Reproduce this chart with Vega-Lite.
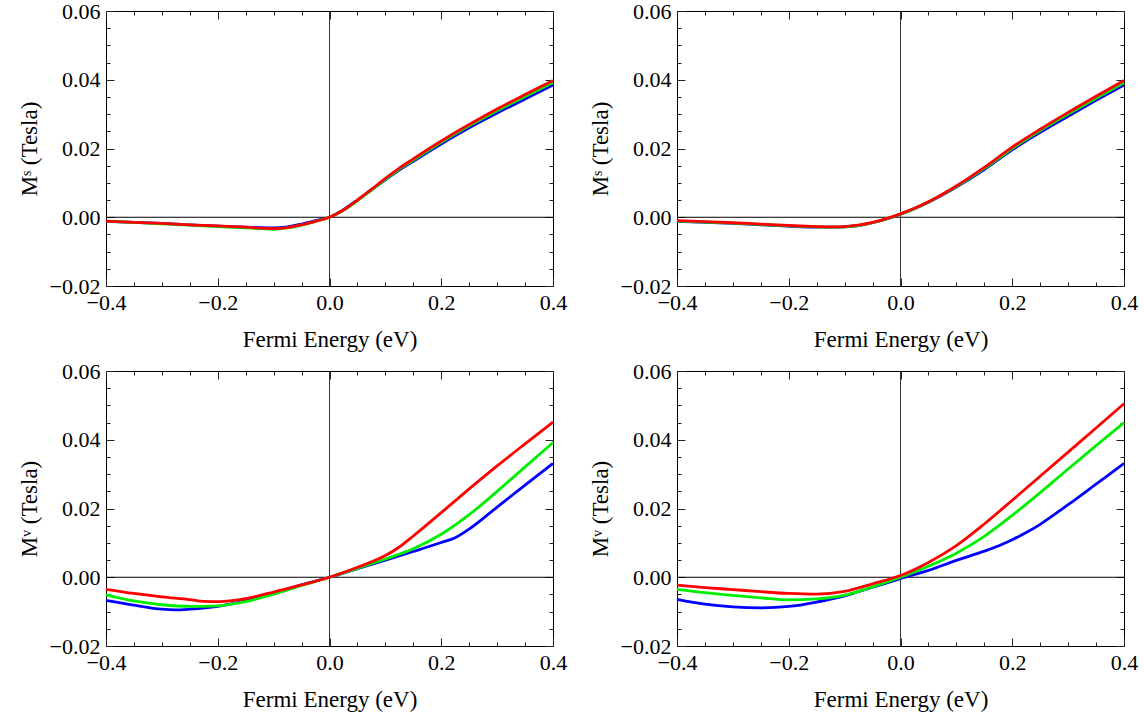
{
"$schema": "https://vega.github.io/schema/vega-lite/v6.json",
"padding": {"left": 17, "top": -1, "right": 5, "bottom": 5},
"background": "white",
"spacing": 7,
"config": {
  "font": "Liberation Serif",
  "view": {"stroke": "#000", "strokeWidth": 1},
  "axis": {"labelFont": "Liberation Serif", "titleFont": "Liberation Serif", "labelFlush": false, "labelOverlap": false, "domain": false, "grid": false},
  "concat": {"spacing": 20}
},
"data": {"values": [
{"p":"sl","s":"blue","E":-0.4,"M":-0.0012},{"p":"sl","s":"blue","E":-0.35,"M":-0.0015},{"p":"sl","s":"blue","E":-0.3,"M":-0.0018},{"p":"sl","s":"blue","E":-0.25,"M":-0.0022},{"p":"sl","s":"blue","E":-0.2,"M":-0.0026},{"p":"sl","s":"blue","E":-0.15,"M":-0.0029},{"p":"sl","s":"blue","E":-0.1,"M":-0.0031},{"p":"sl","s":"blue","E":-0.075,"M":-0.0028},{"p":"sl","s":"blue","E":-0.05,"M":-0.002},{"p":"sl","s":"blue","E":-0.025,"M":-0.001},{"p":"sl","s":"blue","E":0,"M":0},{"p":"sl","s":"blue","E":0.025,"M":0.0022},{"p":"sl","s":"blue","E":0.05,"M":0.005},{"p":"sl","s":"blue","E":0.075,"M":0.008},{"p":"sl","s":"blue","E":0.1,"M":0.0109},{"p":"sl","s":"blue","E":0.125,"M":0.0137},{"p":"sl","s":"blue","E":0.15,"M":0.0163},{"p":"sl","s":"blue","E":0.2,"M":0.0213},{"p":"sl","s":"blue","E":0.25,"M":0.026},{"p":"sl","s":"blue","E":0.3,"M":0.0303},{"p":"sl","s":"blue","E":0.35,"M":0.0344},{"p":"sl","s":"blue","E":0.4,"M":0.0385},
{"p":"sl","s":"green","E":-0.4,"M":-0.0011},{"p":"sl","s":"green","E":-0.35,"M":-0.0015},{"p":"sl","s":"green","E":-0.3,"M":-0.0019},{"p":"sl","s":"green","E":-0.25,"M":-0.0023},{"p":"sl","s":"green","E":-0.2,"M":-0.0027},{"p":"sl","s":"green","E":-0.15,"M":-0.0031},{"p":"sl","s":"green","E":-0.1,"M":-0.0035},{"p":"sl","s":"green","E":-0.075,"M":-0.0031},{"p":"sl","s":"green","E":-0.05,"M":-0.0023},{"p":"sl","s":"green","E":-0.025,"M":-0.0012},{"p":"sl","s":"green","E":0,"M":0},{"p":"sl","s":"green","E":0.025,"M":0.002},{"p":"sl","s":"green","E":0.05,"M":0.0048},{"p":"sl","s":"green","E":0.075,"M":0.0079},{"p":"sl","s":"green","E":0.1,"M":0.011},{"p":"sl","s":"green","E":0.125,"M":0.014},{"p":"sl","s":"green","E":0.15,"M":0.0166},{"p":"sl","s":"green","E":0.2,"M":0.0218},{"p":"sl","s":"green","E":0.25,"M":0.0266},{"p":"sl","s":"green","E":0.3,"M":0.031},{"p":"sl","s":"green","E":0.35,"M":0.0351},{"p":"sl","s":"green","E":0.4,"M":0.0392},
{"p":"sl","s":"red","E":-0.4,"M":-0.0011},{"p":"sl","s":"red","E":-0.35,"M":-0.0015},{"p":"sl","s":"red","E":-0.3,"M":-0.0018},{"p":"sl","s":"red","E":-0.25,"M":-0.0022},{"p":"sl","s":"red","E":-0.2,"M":-0.0025},{"p":"sl","s":"red","E":-0.15,"M":-0.0029},{"p":"sl","s":"red","E":-0.1,"M":-0.0033},{"p":"sl","s":"red","E":-0.075,"M":-0.003},{"p":"sl","s":"red","E":-0.05,"M":-0.0022},{"p":"sl","s":"red","E":-0.025,"M":-0.0012},{"p":"sl","s":"red","E":0,"M":0},{"p":"sl","s":"red","E":0.025,"M":0.0021},{"p":"sl","s":"red","E":0.05,"M":0.005},{"p":"sl","s":"red","E":0.075,"M":0.0081},{"p":"sl","s":"red","E":0.1,"M":0.0113},{"p":"sl","s":"red","E":0.125,"M":0.0143},{"p":"sl","s":"red","E":0.15,"M":0.017},{"p":"sl","s":"red","E":0.2,"M":0.0222},{"p":"sl","s":"red","E":0.25,"M":0.027},{"p":"sl","s":"red","E":0.3,"M":0.0315},{"p":"sl","s":"red","E":0.35,"M":0.0357},{"p":"sl","s":"red","E":0.4,"M":0.0398},
{"p":"sr","s":"blue","E":-0.4,"M":-0.0012},{"p":"sr","s":"blue","E":-0.35,"M":-0.0015},{"p":"sr","s":"blue","E":-0.3,"M":-0.0018},{"p":"sr","s":"blue","E":-0.25,"M":-0.0022},{"p":"sr","s":"blue","E":-0.2,"M":-0.0026},{"p":"sr","s":"blue","E":-0.15,"M":-0.0029},{"p":"sr","s":"blue","E":-0.125,"M":-0.0029},{"p":"sr","s":"blue","E":-0.1,"M":-0.0028},{"p":"sr","s":"blue","E":-0.075,"M":-0.0024},{"p":"sr","s":"blue","E":-0.05,"M":-0.0016},{"p":"sr","s":"blue","E":-0.025,"M":-0.0005},{"p":"sr","s":"blue","E":0,"M":0.0009},{"p":"sr","s":"blue","E":0.025,"M":0.0025},{"p":"sr","s":"blue","E":0.05,"M":0.0044},{"p":"sr","s":"blue","E":0.075,"M":0.0065},{"p":"sr","s":"blue","E":0.1,"M":0.0088},{"p":"sr","s":"blue","E":0.15,"M":0.0139},{"p":"sr","s":"blue","E":0.2,"M":0.0196},{"p":"sr","s":"blue","E":0.25,"M":0.0247},{"p":"sr","s":"blue","E":0.3,"M":0.0294},{"p":"sr","s":"blue","E":0.35,"M":0.034},{"p":"sr","s":"blue","E":0.4,"M":0.0385},
{"p":"sr","s":"green","E":-0.4,"M":-0.0011},{"p":"sr","s":"green","E":-0.35,"M":-0.0014},{"p":"sr","s":"green","E":-0.3,"M":-0.0017},{"p":"sr","s":"green","E":-0.25,"M":-0.0021},{"p":"sr","s":"green","E":-0.2,"M":-0.0025},{"p":"sr","s":"green","E":-0.15,"M":-0.0028},{"p":"sr","s":"green","E":-0.125,"M":-0.0029},{"p":"sr","s":"green","E":-0.1,"M":-0.0028},{"p":"sr","s":"green","E":-0.075,"M":-0.0024},{"p":"sr","s":"green","E":-0.05,"M":-0.0016},{"p":"sr","s":"green","E":-0.025,"M":-0.0005},{"p":"sr","s":"green","E":0,"M":0.0009},{"p":"sr","s":"green","E":0.025,"M":0.0025},{"p":"sr","s":"green","E":0.05,"M":0.0044},{"p":"sr","s":"green","E":0.075,"M":0.0066},{"p":"sr","s":"green","E":0.1,"M":0.0089},{"p":"sr","s":"green","E":0.15,"M":0.0142},{"p":"sr","s":"green","E":0.2,"M":0.02},{"p":"sr","s":"green","E":0.25,"M":0.0252},{"p":"sr","s":"green","E":0.3,"M":0.03},{"p":"sr","s":"green","E":0.35,"M":0.0346},{"p":"sr","s":"green","E":0.4,"M":0.0392},
{"p":"sr","s":"red","E":-0.4,"M":-0.001},{"p":"sr","s":"red","E":-0.35,"M":-0.0013},{"p":"sr","s":"red","E":-0.3,"M":-0.0016},{"p":"sr","s":"red","E":-0.25,"M":-0.002},{"p":"sr","s":"red","E":-0.2,"M":-0.0024},{"p":"sr","s":"red","E":-0.15,"M":-0.0027},{"p":"sr","s":"red","E":-0.125,"M":-0.0028},{"p":"sr","s":"red","E":-0.1,"M":-0.0027},{"p":"sr","s":"red","E":-0.075,"M":-0.0023},{"p":"sr","s":"red","E":-0.05,"M":-0.0015},{"p":"sr","s":"red","E":-0.025,"M":-0.0004},{"p":"sr","s":"red","E":0,"M":0.001},{"p":"sr","s":"red","E":0.025,"M":0.0026},{"p":"sr","s":"red","E":0.05,"M":0.0045},{"p":"sr","s":"red","E":0.075,"M":0.0067},{"p":"sr","s":"red","E":0.1,"M":0.0091},{"p":"sr","s":"red","E":0.15,"M":0.0145},{"p":"sr","s":"red","E":0.2,"M":0.0204},{"p":"sr","s":"red","E":0.25,"M":0.0256},{"p":"sr","s":"red","E":0.3,"M":0.0305},{"p":"sr","s":"red","E":0.35,"M":0.0352},{"p":"sr","s":"red","E":0.4,"M":0.0398},
{"p":"vl","s":"blue","E":-0.4,"M":-0.0067},{"p":"vl","s":"blue","E":-0.35,"M":-0.0081},{"p":"vl","s":"blue","E":-0.3,"M":-0.0093},{"p":"vl","s":"blue","E":-0.275,"M":-0.0095},{"p":"vl","s":"blue","E":-0.25,"M":-0.0093},{"p":"vl","s":"blue","E":-0.2,"M":-0.0085},{"p":"vl","s":"blue","E":-0.15,"M":-0.0069},{"p":"vl","s":"blue","E":-0.1,"M":-0.0048},{"p":"vl","s":"blue","E":-0.05,"M":-0.0022},{"p":"vl","s":"blue","E":0,"M":0},{"p":"vl","s":"blue","E":0.05,"M":0.0025},{"p":"vl","s":"blue","E":0.1,"M":0.005},{"p":"vl","s":"blue","E":0.15,"M":0.0075},{"p":"vl","s":"blue","E":0.2,"M":0.0101},{"p":"vl","s":"blue","E":0.225,"M":0.0115},{"p":"vl","s":"blue","E":0.25,"M":0.014},{"p":"vl","s":"blue","E":0.3,"M":0.0204},{"p":"vl","s":"blue","E":0.35,"M":0.0268},{"p":"vl","s":"blue","E":0.4,"M":0.0331},
{"p":"vl","s":"green","E":-0.4,"M":-0.0051},{"p":"vl","s":"green","E":-0.35,"M":-0.0069},{"p":"vl","s":"green","E":-0.3,"M":-0.008},{"p":"vl","s":"green","E":-0.25,"M":-0.0085},{"p":"vl","s":"green","E":-0.2,"M":-0.0083},{"p":"vl","s":"green","E":-0.15,"M":-0.0071},{"p":"vl","s":"green","E":-0.1,"M":-0.0049},{"p":"vl","s":"green","E":-0.05,"M":-0.0024},{"p":"vl","s":"green","E":0,"M":0},{"p":"vl","s":"green","E":0.05,"M":0.0026},{"p":"vl","s":"green","E":0.1,"M":0.0053},{"p":"vl","s":"green","E":0.15,"M":0.0083},{"p":"vl","s":"green","E":0.2,"M":0.0125},{"p":"vl","s":"green","E":0.25,"M":0.0182},{"p":"vl","s":"green","E":0.3,"M":0.025},{"p":"vl","s":"green","E":0.35,"M":0.0321},{"p":"vl","s":"green","E":0.4,"M":0.0392},
{"p":"vl","s":"red","E":-0.4,"M":-0.0035},{"p":"vl","s":"red","E":-0.35,"M":-0.0047},{"p":"vl","s":"red","E":-0.3,"M":-0.0057},{"p":"vl","s":"red","E":-0.25,"M":-0.0065},{"p":"vl","s":"red","E":-0.225,"M":-0.007},{"p":"vl","s":"red","E":-0.2,"M":-0.0071},{"p":"vl","s":"red","E":-0.175,"M":-0.0068},{"p":"vl","s":"red","E":-0.15,"M":-0.0062},{"p":"vl","s":"red","E":-0.1,"M":-0.0043},{"p":"vl","s":"red","E":-0.05,"M":-0.0022},{"p":"vl","s":"red","E":0,"M":0},{"p":"vl","s":"red","E":0.05,"M":0.0029},{"p":"vl","s":"red","E":0.1,"M":0.0063},{"p":"vl","s":"red","E":0.125,"M":0.0088},{"p":"vl","s":"red","E":0.15,"M":0.012},{"p":"vl","s":"red","E":0.2,"M":0.0188},{"p":"vl","s":"red","E":0.25,"M":0.0257},{"p":"vl","s":"red","E":0.3,"M":0.0324},{"p":"vl","s":"red","E":0.35,"M":0.0388},{"p":"vl","s":"red","E":0.4,"M":0.0451},
{"p":"vr","s":"blue","E":-0.4,"M":-0.0064},{"p":"vr","s":"blue","E":-0.35,"M":-0.0078},{"p":"vr","s":"blue","E":-0.3,"M":-0.0086},{"p":"vr","s":"blue","E":-0.25,"M":-0.0089},{"p":"vr","s":"blue","E":-0.2,"M":-0.0085},{"p":"vr","s":"blue","E":-0.15,"M":-0.0072},{"p":"vr","s":"blue","E":-0.1,"M":-0.0054},{"p":"vr","s":"blue","E":-0.05,"M":-0.0029},{"p":"vr","s":"blue","E":0,"M":-0.0004},{"p":"vr","s":"blue","E":0.05,"M":0.002},{"p":"vr","s":"blue","E":0.1,"M":0.0049},{"p":"vr","s":"blue","E":0.15,"M":0.0076},{"p":"vr","s":"blue","E":0.175,"M":0.0091},{"p":"vr","s":"blue","E":0.2,"M":0.0109},{"p":"vr","s":"blue","E":0.225,"M":0.013},{"p":"vr","s":"blue","E":0.25,"M":0.0154},{"p":"vr","s":"blue","E":0.3,"M":0.0211},{"p":"vr","s":"blue","E":0.35,"M":0.0271},{"p":"vr","s":"blue","E":0.4,"M":0.0331},
{"p":"vr","s":"green","E":-0.4,"M":-0.0035},{"p":"vr","s":"green","E":-0.35,"M":-0.0045},{"p":"vr","s":"green","E":-0.3,"M":-0.0053},{"p":"vr","s":"green","E":-0.25,"M":-0.006},{"p":"vr","s":"green","E":-0.2,"M":-0.0066},{"p":"vr","s":"green","E":-0.15,"M":-0.0063},{"p":"vr","s":"green","E":-0.1,"M":-0.0052},{"p":"vr","s":"green","E":-0.05,"M":-0.0028},{"p":"vr","s":"green","E":0,"M":0},{"p":"vr","s":"green","E":0.05,"M":0.0032},{"p":"vr","s":"green","E":0.1,"M":0.007},{"p":"vr","s":"green","E":0.15,"M":0.0119},{"p":"vr","s":"green","E":0.2,"M":0.018},{"p":"vr","s":"green","E":0.25,"M":0.0246},{"p":"vr","s":"green","E":0.3,"M":0.0315},{"p":"vr","s":"green","E":0.35,"M":0.0383},{"p":"vr","s":"green","E":0.4,"M":0.045},
{"p":"vr","s":"red","E":-0.4,"M":-0.0023},{"p":"vr","s":"red","E":-0.35,"M":-0.003},{"p":"vr","s":"red","E":-0.3,"M":-0.0036},{"p":"vr","s":"red","E":-0.25,"M":-0.0042},{"p":"vr","s":"red","E":-0.2,"M":-0.0047},{"p":"vr","s":"red","E":-0.15,"M":-0.0049},{"p":"vr","s":"red","E":-0.1,"M":-0.0041},{"p":"vr","s":"red","E":-0.05,"M":-0.0019},{"p":"vr","s":"red","E":0,"M":0.0005},{"p":"vr","s":"red","E":0.05,"M":0.0043},{"p":"vr","s":"red","E":0.1,"M":0.0092},{"p":"vr","s":"red","E":0.15,"M":0.0155},{"p":"vr","s":"red","E":0.2,"M":0.0224},{"p":"vr","s":"red","E":0.25,"M":0.0294},{"p":"vr","s":"red","E":0.3,"M":0.0364},{"p":"vr","s":"red","E":0.35,"M":0.0434},{"p":"vr","s":"red","E":0.4,"M":0.0505}
]},
"vconcat": [
 {"hconcat": [
  {"width": 447, "height": 275,
   "layer": [
    {"data": {"values": [{}]}, "mark": {"type": "rule", "color": "#000", "strokeWidth": 1},
     "encoding": {"y": {"datum": 0, "type": "quantitative", "scale": {"domain": [-0.02, 0.06], "nice": false, "zero": false},
       "axis": {"orient": "right", "values": [-0.02,-0.015,-0.01,-0.005,0,0.005,0.01,0.015,0.02,0.025,0.03,0.035,0.04,0.045,0.05,0.055,0.06], "labels": false, "title": null, "domain": false, "grid": false, "tickColor": "#222", "tickSize": {"condition": {"test": "round(datum.value*200)%4==0", "value": -8}, "value": -4}}}}},
    {"data": {"values": [{}]}, "mark": {"type": "rule", "color": "#333", "strokeWidth": 1},
     "encoding": {"x": {"datum": 0, "type": "quantitative", "scale": {"domain": [-0.4, 0.4], "nice": false, "zero": false},
       "axis": {"orient": "top", "values": [-0.4,-0.35,-0.3,-0.25,-0.2,-0.15,-0.1,-0.05,0,0.05,0.1,0.15,0.2,0.25,0.3,0.35,0.4], "labels": false, "title": null, "domain": false, "grid": false, "tickColor": "#222", "tickSize": {"condition": {"test": "round(datum.value*20)%4==0", "value": -8}, "value": -4}}}}},
    {"transform": [{"filter": "datum.p == 'sl'"}],
     "mark": {"type": "line", "strokeWidth": 2.8, "interpolate": "monotone"},
     "encoding": {
      "x": {"field": "E", "type": "quantitative", "scale": {"domain": [-0.4, 0.4], "nice": false, "zero": false},
        "axis": {"orient": "bottom", "values": [-0.4,-0.35,-0.3,-0.25,-0.2,-0.15,-0.1,-0.05,0,0.05,0.1,0.15,0.2,0.25,0.3,0.35,0.4], "format": ".1f", "labelExpr": "round(datum.value*20)%4==0 ? datum.label : ''", "tickSize": {"condition": {"test": "round(datum.value*20)%4==0", "value": -8}, "value": -4}, "tickColor": "#222", "labelPadding": 14, "labelFont": "Liberation Serif", "labelFontSize": 22, "labelColor": "#000", "labelFlush": false, "labelOverlap": false, "domain": false, "grid": false, "title": "Fermi Energy (eV)", "titleFont": "Liberation Serif", "titleFontSize": 23, "titleFontWeight": "normal", "titleColor": "#000", "titlePadding": 11}},
      "y": {"field": "M", "type": "quantitative", "scale": {"domain": [-0.02, 0.06], "nice": false, "zero": false},
        "axis": {"orient": "left", "values": [-0.02,-0.015,-0.01,-0.005,0,0.005,0.01,0.015,0.02,0.025,0.03,0.035,0.04,0.045,0.05,0.055,0.06], "format": ".2f", "labelExpr": "round(datum.value*200)%4==0 ? datum.label : ''", "tickSize": {"condition": {"test": "round(datum.value*200)%4==0", "value": -8}, "value": -4}, "tickColor": "#222", "labelPadding": 14, "labelFont": "Liberation Serif", "labelFontSize": 22, "labelColor": "#000", "labelFlush": false, "labelOverlap": false, "domain": false, "grid": false, "title": "Mˢ (Tesla)", "titleFont": "Liberation Serif", "titleFontSize": 23, "titleFontWeight": "normal", "titleColor": "#000", "titlePadding": 8}},
      "color": {"field": "s", "type": "nominal", "scale": {"domain": ["blue", "green", "red"], "range": ["#0000ff", "#00ee00", "#ff0000"]}, "legend": null}
     }}
   ],
   "resolve": {"axis": {"x": "independent", "y": "independent"}}},
  {"width": 447, "height": 275,
   "layer": [
    {"data": {"values": [{}]}, "mark": {"type": "rule", "color": "#000", "strokeWidth": 1},
     "encoding": {"y": {"datum": 0, "type": "quantitative", "scale": {"domain": [-0.02, 0.06], "nice": false, "zero": false},
       "axis": {"orient": "right", "values": [-0.02,-0.015,-0.01,-0.005,0,0.005,0.01,0.015,0.02,0.025,0.03,0.035,0.04,0.045,0.05,0.055,0.06], "labels": false, "title": null, "domain": false, "grid": false, "tickColor": "#222", "tickSize": {"condition": {"test": "round(datum.value*200)%4==0", "value": -8}, "value": -4}}}}},
    {"data": {"values": [{}]}, "mark": {"type": "rule", "color": "#333", "strokeWidth": 1},
     "encoding": {"x": {"datum": 0, "type": "quantitative", "scale": {"domain": [-0.4, 0.4], "nice": false, "zero": false},
       "axis": {"orient": "top", "values": [-0.4,-0.35,-0.3,-0.25,-0.2,-0.15,-0.1,-0.05,0,0.05,0.1,0.15,0.2,0.25,0.3,0.35,0.4], "labels": false, "title": null, "domain": false, "grid": false, "tickColor": "#222", "tickSize": {"condition": {"test": "round(datum.value*20)%4==0", "value": -8}, "value": -4}}}}},
    {"transform": [{"filter": "datum.p == 'sr'"}],
     "mark": {"type": "line", "strokeWidth": 2.8, "interpolate": "monotone"},
     "encoding": {
      "x": {"field": "E", "type": "quantitative", "scale": {"domain": [-0.4, 0.4], "nice": false, "zero": false},
        "axis": {"orient": "bottom", "values": [-0.4,-0.35,-0.3,-0.25,-0.2,-0.15,-0.1,-0.05,0,0.05,0.1,0.15,0.2,0.25,0.3,0.35,0.4], "format": ".1f", "labelExpr": "round(datum.value*20)%4==0 ? datum.label : ''", "tickSize": {"condition": {"test": "round(datum.value*20)%4==0", "value": -8}, "value": -4}, "tickColor": "#222", "labelPadding": 14, "labelFont": "Liberation Serif", "labelFontSize": 22, "labelColor": "#000", "labelFlush": false, "labelOverlap": false, "domain": false, "grid": false, "title": "Fermi Energy (eV)", "titleFont": "Liberation Serif", "titleFontSize": 23, "titleFontWeight": "normal", "titleColor": "#000", "titlePadding": 11}},
      "y": {"field": "M", "type": "quantitative", "scale": {"domain": [-0.02, 0.06], "nice": false, "zero": false},
        "axis": {"orient": "left", "values": [-0.02,-0.015,-0.01,-0.005,0,0.005,0.01,0.015,0.02,0.025,0.03,0.035,0.04,0.045,0.05,0.055,0.06], "format": ".2f", "labelExpr": "round(datum.value*200)%4==0 ? datum.label : ''", "tickSize": {"condition": {"test": "round(datum.value*200)%4==0", "value": -8}, "value": -4}, "tickColor": "#222", "labelPadding": 14, "labelFont": "Liberation Serif", "labelFontSize": 22, "labelColor": "#000", "labelFlush": false, "labelOverlap": false, "domain": false, "grid": false, "title": "Mˢ (Tesla)", "titleFont": "Liberation Serif", "titleFontSize": 23, "titleFontWeight": "normal", "titleColor": "#000", "titlePadding": 8}},
      "color": {"field": "s", "type": "nominal", "scale": {"domain": ["blue", "green", "red"], "range": ["#0000ff", "#00ee00", "#ff0000"]}, "legend": null}
     }}
   ],
   "resolve": {"axis": {"x": "independent", "y": "independent"}}}
 ]},
 {"hconcat": [
  {"width": 447, "height": 275,
   "layer": [
    {"data": {"values": [{}]}, "mark": {"type": "rule", "color": "#000", "strokeWidth": 1},
     "encoding": {"y": {"datum": 0, "type": "quantitative", "scale": {"domain": [-0.02, 0.06], "nice": false, "zero": false},
       "axis": {"orient": "right", "values": [-0.02,-0.015,-0.01,-0.005,0,0.005,0.01,0.015,0.02,0.025,0.03,0.035,0.04,0.045,0.05,0.055,0.06], "labels": false, "title": null, "domain": false, "grid": false, "tickColor": "#222", "tickSize": {"condition": {"test": "round(datum.value*200)%4==0", "value": -8}, "value": -4}}}}},
    {"data": {"values": [{}]}, "mark": {"type": "rule", "color": "#333", "strokeWidth": 1},
     "encoding": {"x": {"datum": 0, "type": "quantitative", "scale": {"domain": [-0.4, 0.4], "nice": false, "zero": false},
       "axis": {"orient": "top", "values": [-0.4,-0.35,-0.3,-0.25,-0.2,-0.15,-0.1,-0.05,0,0.05,0.1,0.15,0.2,0.25,0.3,0.35,0.4], "labels": false, "title": null, "domain": false, "grid": false, "tickColor": "#222", "tickSize": {"condition": {"test": "round(datum.value*20)%4==0", "value": -8}, "value": -4}}}}},
    {"transform": [{"filter": "datum.p == 'vl'"}],
     "mark": {"type": "line", "strokeWidth": 2.8, "interpolate": "monotone"},
     "encoding": {
      "x": {"field": "E", "type": "quantitative", "scale": {"domain": [-0.4, 0.4], "nice": false, "zero": false},
        "axis": {"orient": "bottom", "values": [-0.4,-0.35,-0.3,-0.25,-0.2,-0.15,-0.1,-0.05,0,0.05,0.1,0.15,0.2,0.25,0.3,0.35,0.4], "format": ".1f", "labelExpr": "round(datum.value*20)%4==0 ? datum.label : ''", "tickSize": {"condition": {"test": "round(datum.value*20)%4==0", "value": -8}, "value": -4}, "tickColor": "#222", "labelPadding": 14, "labelFont": "Liberation Serif", "labelFontSize": 22, "labelColor": "#000", "labelFlush": false, "labelOverlap": false, "domain": false, "grid": false, "title": "Fermi Energy (eV)", "titleFont": "Liberation Serif", "titleFontSize": 23, "titleFontWeight": "normal", "titleColor": "#000", "titlePadding": 11}},
      "y": {"field": "M", "type": "quantitative", "scale": {"domain": [-0.02, 0.06], "nice": false, "zero": false},
        "axis": {"orient": "left", "values": [-0.02,-0.015,-0.01,-0.005,0,0.005,0.01,0.015,0.02,0.025,0.03,0.035,0.04,0.045,0.05,0.055,0.06], "format": ".2f", "labelExpr": "round(datum.value*200)%4==0 ? datum.label : ''", "tickSize": {"condition": {"test": "round(datum.value*200)%4==0", "value": -8}, "value": -4}, "tickColor": "#222", "labelPadding": 14, "labelFont": "Liberation Serif", "labelFontSize": 22, "labelColor": "#000", "labelFlush": false, "labelOverlap": false, "domain": false, "grid": false, "title": "Mᵛ (Tesla)", "titleFont": "Liberation Serif", "titleFontSize": 23, "titleFontWeight": "normal", "titleColor": "#000", "titlePadding": 8}},
      "color": {"field": "s", "type": "nominal", "scale": {"domain": ["blue", "green", "red"], "range": ["#0000ff", "#00ee00", "#ff0000"]}, "legend": null}
     }}
   ],
   "resolve": {"axis": {"x": "independent", "y": "independent"}}},
  {"width": 447, "height": 275,
   "layer": [
    {"data": {"values": [{}]}, "mark": {"type": "rule", "color": "#000", "strokeWidth": 1},
     "encoding": {"y": {"datum": 0, "type": "quantitative", "scale": {"domain": [-0.02, 0.06], "nice": false, "zero": false},
       "axis": {"orient": "right", "values": [-0.02,-0.015,-0.01,-0.005,0,0.005,0.01,0.015,0.02,0.025,0.03,0.035,0.04,0.045,0.05,0.055,0.06], "labels": false, "title": null, "domain": false, "grid": false, "tickColor": "#222", "tickSize": {"condition": {"test": "round(datum.value*200)%4==0", "value": -8}, "value": -4}}}}},
    {"data": {"values": [{}]}, "mark": {"type": "rule", "color": "#333", "strokeWidth": 1},
     "encoding": {"x": {"datum": 0, "type": "quantitative", "scale": {"domain": [-0.4, 0.4], "nice": false, "zero": false},
       "axis": {"orient": "top", "values": [-0.4,-0.35,-0.3,-0.25,-0.2,-0.15,-0.1,-0.05,0,0.05,0.1,0.15,0.2,0.25,0.3,0.35,0.4], "labels": false, "title": null, "domain": false, "grid": false, "tickColor": "#222", "tickSize": {"condition": {"test": "round(datum.value*20)%4==0", "value": -8}, "value": -4}}}}},
    {"transform": [{"filter": "datum.p == 'vr'"}],
     "mark": {"type": "line", "strokeWidth": 2.8, "interpolate": "monotone"},
     "encoding": {
      "x": {"field": "E", "type": "quantitative", "scale": {"domain": [-0.4, 0.4], "nice": false, "zero": false},
        "axis": {"orient": "bottom", "values": [-0.4,-0.35,-0.3,-0.25,-0.2,-0.15,-0.1,-0.05,0,0.05,0.1,0.15,0.2,0.25,0.3,0.35,0.4], "format": ".1f", "labelExpr": "round(datum.value*20)%4==0 ? datum.label : ''", "tickSize": {"condition": {"test": "round(datum.value*20)%4==0", "value": -8}, "value": -4}, "tickColor": "#222", "labelPadding": 14, "labelFont": "Liberation Serif", "labelFontSize": 22, "labelColor": "#000", "labelFlush": false, "labelOverlap": false, "domain": false, "grid": false, "title": "Fermi Energy (eV)", "titleFont": "Liberation Serif", "titleFontSize": 23, "titleFontWeight": "normal", "titleColor": "#000", "titlePadding": 11}},
      "y": {"field": "M", "type": "quantitative", "scale": {"domain": [-0.02, 0.06], "nice": false, "zero": false},
        "axis": {"orient": "left", "values": [-0.02,-0.015,-0.01,-0.005,0,0.005,0.01,0.015,0.02,0.025,0.03,0.035,0.04,0.045,0.05,0.055,0.06], "format": ".2f", "labelExpr": "round(datum.value*200)%4==0 ? datum.label : ''", "tickSize": {"condition": {"test": "round(datum.value*200)%4==0", "value": -8}, "value": -4}, "tickColor": "#222", "labelPadding": 14, "labelFont": "Liberation Serif", "labelFontSize": 22, "labelColor": "#000", "labelFlush": false, "labelOverlap": false, "domain": false, "grid": false, "title": "Mᵛ (Tesla)", "titleFont": "Liberation Serif", "titleFontSize": 23, "titleFontWeight": "normal", "titleColor": "#000", "titlePadding": 8}},
      "color": {"field": "s", "type": "nominal", "scale": {"domain": ["blue", "green", "red"], "range": ["#0000ff", "#00ee00", "#ff0000"]}, "legend": null}
     }}
   ],
   "resolve": {"axis": {"x": "independent", "y": "independent"}}}
 ]}
]
}
